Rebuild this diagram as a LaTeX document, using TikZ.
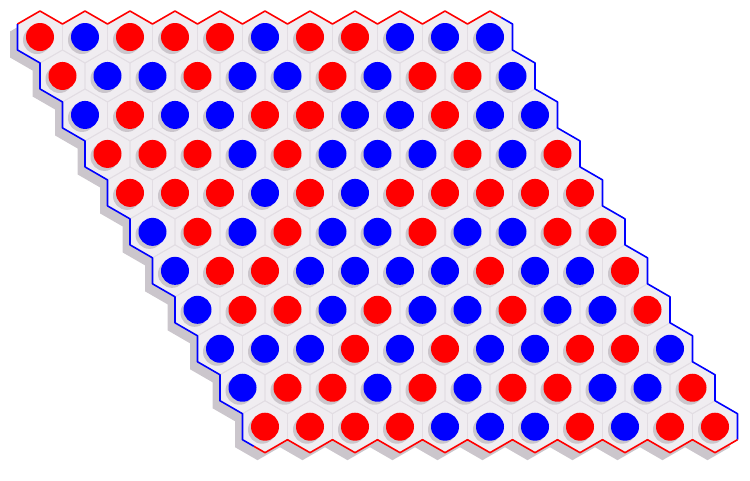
\documentclass[tikz,border=0pt]{standalone}
\usetikzlibrary{shadows}
\definecolor{boardfill}{RGB}{240,237,241}
\definecolor{gridcol}{RGB}{226,221,227}
\definecolor{shadowcol}{RGB}{203,198,204}
\definecolor{hexred}{RGB}{255,0,0}
\definecolor{hexblue}{RGB}{0,0,255}
\tikzset{
  gridline/.style={draw=gridcol, line width=0.8pt},
  redborder/.style={draw=hexred, line width=1.6pt, line join=round},
  blueborder/.style={draw=hexblue, line width=1.6pt, line join=round},
  stone/.style={circle, minimum size=28pt, inner sep=0pt, draw=none,
    general shadow={shadow xshift=-3pt, shadow yshift=-3pt, fill=shadowcol}},
  stoneR/.style={fill=hexred},
  stoneB/.style={fill=hexblue},
}
\begin{document}
\begin{tikzpicture}[x=1pt, y=-1pt]
\useasboundingbox (0,0) rectangle (750,480);
% board shadow
\fill[shadowcol, shift={(-7.5,7.5)}] (17.5,24.01)
  \foreach \c in {0,...,10} { -- ({40+45*\c},11.02) -- ({62.5+45*\c},24.01) }
  \foreach \r in {0,...,10} { -- ({512.5+22.5*\r},{24.01+38.971*\r}) -- ({512.5+22.5*\r},{49.99+38.971*\r}) }
  \foreach \c in {10,9,...,0} { -- ({287.5+45*\c},439.69) -- ({265+45*\c},452.68) }
  \foreach \r in {10,9,...,0} { -- ({17.5+22.5*\r},{49.99+38.971*\r}) -- ({17.5+22.5*\r},{24.01+38.971*\r}) }
  -- cycle;
% board
\fill[boardfill] (17.5,24.01)
  \foreach \c in {0,...,10} { -- ({40+45*\c},11.02) -- ({62.5+45*\c},24.01) }
  \foreach \r in {0,...,10} { -- ({512.5+22.5*\r},{24.01+38.971*\r}) -- ({512.5+22.5*\r},{49.99+38.971*\r}) }
  \foreach \c in {10,9,...,0} { -- ({287.5+45*\c},439.69) -- ({265+45*\c},452.68) }
  \foreach \r in {10,9,...,0} { -- ({17.5+22.5*\r},{49.99+38.971*\r}) -- ({17.5+22.5*\r},{24.01+38.971*\r}) }
  -- cycle;
% grid
\foreach \r in {0,...,10} {
  \foreach \c in {0,...,10} {
    \draw[gridline] ({40+45*\c+22.5*\r},{37+38.971*\r}) ++(0,-25.98) -- ++(22.5,12.99) -- ++(0,25.98)
      -- ++(-22.5,12.99) -- ++(-22.5,-12.99) -- ++(0,-25.98) -- cycle;
  }
}
% borders
\draw[redborder] (17.5,24.01)
  \foreach \c in {0,...,9} { -- ({40+45*\c},11.02) -- ({62.5+45*\c},24.01) }
  -- (490,11.02) -- (501.25,17.51);
\draw[blueborder] (501.25,17.51)
  \foreach \r in {0,...,10} { -- ({512.5+22.5*\r},{24.01+38.971*\r}) -- ({512.5+22.5*\r},{49.99+38.971*\r}) };
\draw[redborder] (737.5,439.69)
  \foreach \c in {10,9,...,1} { -- ({265+45*\c},452.68) -- ({242.5+45*\c},439.69) }
  -- (265,452.68) -- (253.75,446.19);
\draw[blueborder] (253.75,446.19)
  \foreach \r in {10,9,...,0} { -- ({17.5+22.5*\r},{49.99+38.971*\r}) -- ({17.5+22.5*\r},{24.01+38.971*\r}) };
% stones
\foreach \row [count=\r from 0] in {
  {R,B,R,R,R,B,R,R,B,B,B},
  {R,B,B,R,B,B,R,B,R,R,B},
  {B,R,B,B,R,R,B,B,R,B,B},
  {R,R,R,B,R,B,B,B,R,B,R},
  {R,R,R,B,R,B,R,R,R,R,R},
  {B,R,B,R,B,B,R,B,B,R,R},
  {B,R,R,B,B,B,B,R,B,B,R},
  {B,R,R,B,R,B,B,R,B,B,R},
  {B,B,B,R,B,R,B,B,R,R,B},
  {B,R,R,B,R,B,R,R,B,B,R},
  {R,R,R,R,B,B,B,R,B,R,R}} {
  \foreach \s [count=\c from 0] in \row {
    \node[stone, stone\s] (s\r-\c) at ({40+45*\c+22.5*\r},{37+38.971*\r}) {};
  }
}
\end{tikzpicture}
\end{document}
